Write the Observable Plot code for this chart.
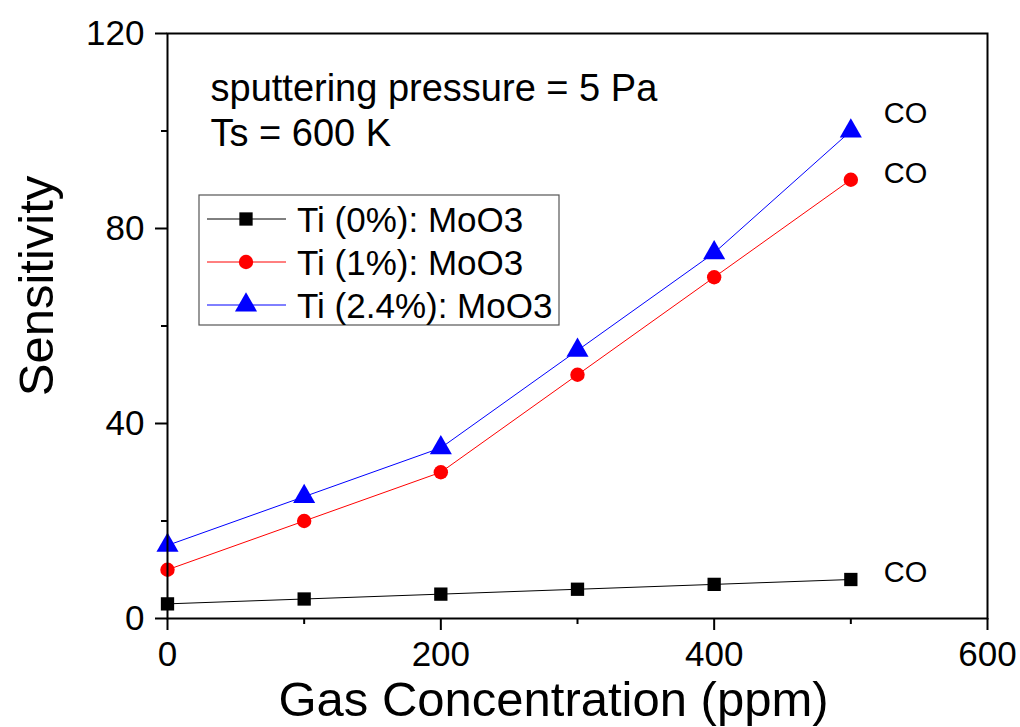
<!DOCTYPE html>
<html><head><meta charset="utf-8">
<script src="https://cdn.jsdelivr.net/npm/d3@7"></script>
<script src="https://cdn.jsdelivr.net/npm/@observablehq/plot@0.6"></script>
<style>body{margin:0;background:#fff;} #chart svg{font-family:"Liberation Sans",Arial,sans-serif;}</style>
</head><body><div id="chart"></div>
<script>
// ---- data ----
const concentrations = [0, 100, 200, 300, 400, 500];
const ti0 = [3, 4, 5, 6, 7, 8];
const ti1 = [10, 20, 30, 50, 70, 90];
const ti24 = [15, 25, 35, 55, 75, 100];
const seriesNames = ["Ti (0%): MoO3", "Ti (1%): MoO3", "Ti (2.4%): MoO3"];
const seriesColors = ["#000000", "#ff0000", "#0000ff"];
const seriesSymbols = ["square", "circle", "triangle"];
const xMajorTicks = [0, 200, 400, 600];
const xMinorTicks = [100, 300, 500];
const yMajorTicks = [0, 40, 80, 120];
const yMinorTicks = [20, 60, 100];
const endLabel = "CO";
const notes = ["sputtering pressure = 5 Pa", "Ts = 600 K"];
const xTitle = "Gas Concentration (ppm)";
const yTitle = "Sensitivity";

// ---- build rows ----
const seriesValues = [ti0, ti1, ti24];
const rows = [];
seriesValues.forEach((vals, i) => vals.forEach((v, j) => rows.push({series: seriesNames[i], x: concentrations[j], y: v})));

const symbolMap = {square: d3.symbolSquare, circle: d3.symbolCircle, triangle: d3.symbolTriangle};
const symbolR = [7.5, 7.2, 8.2];
const endDy = [-7, -6, -17];
const font = "'Liberation Sans', Arial, sans-serif";

function legendMark(index, scales, values, dims) {
  const g = d3.create("svg:g");
  const bx = dims.marginLeft + 32, by = dims.marginTop + 162;
  g.append("rect").attr("x", bx).attr("y", by).attr("width", 360).attr("height", 130)
    .attr("fill", "white").attr("stroke", "#555").attr("stroke-width", 1.2);
  seriesNames.forEach((name, i) => {
    const cy = by + 24 + i * 43;
    g.append("line").attr("x1", bx + 8).attr("x2", bx + 87).attr("y1", cy).attr("y2", cy)
      .attr("stroke", seriesColors[i]).attr("stroke-width", 1);
    const r = symbolR[i];
    g.append("path").attr("transform", `translate(${bx + 47},${cy})`)
      .attr("d", d3.symbol(symbolMap[seriesSymbols[i]], r * r * Math.PI)())
      .attr("fill", seriesColors[i]);
    g.append("text").attr("x", bx + 98).attr("y", cy).attr("dy", "0.36em")
      .attr("text-anchor", "start")
      .attr("font-size", 35).attr("font-family", font).attr("fill", "black").text(name);
  });
  return g.node();
}

const chart = Plot.plot({
  width: 1020, height: 727,
  marginLeft: 167, marginRight: 33, marginTop: 33, marginBottom: 109,
  x: {domain: [0, 600]},
  y: {domain: [0, 120]},
  color: {domain: seriesNames, range: seriesColors},
  style: {fontFamily: font, background: "white", color: "black", overflow: "visible"},
  marks: [
    Plot.line(rows, {x: "x", y: "y", z: "series", stroke: "series", strokeWidth: 1}),
    ...seriesNames.map((name, i) => Plot.dot(rows.filter(d => d.series === name), {
      x: "x", y: "y", symbol: () => seriesSymbols[i], fill: seriesColors[i], r: symbolR[i], stroke: "none"
    })),
    ...seriesNames.map((name, i) => Plot.text(rows.filter(d => d.series === name).slice(-1), {
      x: "x", y: "y", text: () => endLabel, textAnchor: "start", dx: 33, dy: endDy[i], fontSize: 29, fill: "black"
    })),
    Plot.frame({stroke: "black", strokeWidth: 2}),
    Plot.axisX({ticks: xMajorTicks, tickSize: 12, tickPadding: 11, fontSize: 35, label: null, strokeWidth: 2}),
    Plot.axisX({ticks: xMinorTicks, tickSize: 6, text: null, label: null, strokeWidth: 2}),
    Plot.axisY({ticks: yMajorTicks, tickSize: 12, tickPadding: 11, fontSize: 35, label: null, strokeWidth: 2}),
    Plot.axisY({ticks: yMinorTicks, tickSize: 6, text: null, label: null, strokeWidth: 2}),
    Plot.text([notes.join("\n")], {frameAnchor: "top-left", dx: 43, dy: 36, lineAnchor: "top", textAnchor: "start", fontSize: 38, lineHeight: 1.18, fill: "black"}),
    Plot.text([xTitle], {frameAnchor: "bottom", dx: -24, dy: 82, lineAnchor: "middle", textAnchor: "middle", fontSize: 49, fill: "black"}),
    Plot.text([yTitle], {frameAnchor: "left", dx: -130, dy: -40, rotate: -90, lineAnchor: "middle", textAnchor: "middle", fontSize: 49, fill: "black"}),
    legendMark
  ]
});
document.getElementById("chart").append(chart);
</script>
</body></html>
